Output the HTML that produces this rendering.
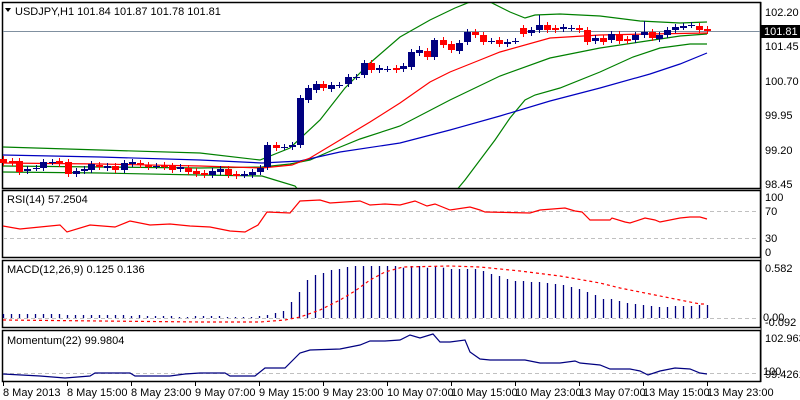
<!DOCTYPE html>
<html><head><meta charset="utf-8"><style>
body{margin:0;background:#fff;width:800px;height:400px;overflow:hidden}
svg{display:block;font-family:"Liberation Sans",sans-serif;font-size:11px}
</style></head><body>
<svg id="s" width="800" height="400" xmlns="http://www.w3.org/2000/svg">
<rect width="800" height="400" fill="#fff"/>
<rect x="2.5" y="2.5" width="758" height="186" fill="none" stroke="#000" stroke-width="1.5"/>
<rect x="2.5" y="190.5" width="758" height="67" fill="none" stroke="#000" stroke-width="1.5"/>
<rect x="2.5" y="260.5" width="758" height="67" fill="none" stroke="#000" stroke-width="1.5"/>
<rect x="2.5" y="330.5" width="758" height="51" fill="none" stroke="#000" stroke-width="1.5"/>
<g stroke="#c0c0c0" stroke-dasharray="4,3">
<line x1="3" y1="211.5" x2="760" y2="211.5"/><line x1="3" y1="238.5" x2="760" y2="238.5"/>
<line x1="3" y1="318.5" x2="760" y2="318.5"/><line x1="3" y1="373.5" x2="760" y2="373.5"/>
</g>
<line x1="3" y1="31.5" x2="760" y2="31.5" stroke="#8090a0"/>
<g id="g"></g>
<polygon points="5,8 11,8 8,12" fill="#000"/>
<text x="15" y="15" fill="#000">USDJPY,H1  101.84 101.87 101.78 101.81</text>
<text x="7" y="203" fill="#000">RSI(14) 57.2504</text>
<text x="7" y="273" fill="#000">MACD(12,26,9) 0.125 0.136</text>
<text x="7" y="344" fill="#000">Momentum(22) 99.9804</text>
<g fill="#000">
<text x="765" y="16">102.20</text><text x="765" y="50">101.45</text><text x="765" y="85">100.70</text>
<text x="765" y="119">99.95</text><text x="765" y="154">99.20</text><text x="765" y="188">98.45</text>
<text x="765" y="201">100</text><text x="765" y="215">70</text><text x="765" y="242">30</text><text x="765" y="256">0</text>
<text x="765" y="272">0.582</text><text x="763" y="321">0.00</text><text x="765" y="326">-0.092</text>
<text x="765" y="342">102.9633</text><text x="763" y="375">100</text><text x="765" y="378">99.4261</text>
</g>
<rect x="761" y="25" width="39" height="13" fill="#000"/>
<text x="764" y="35" fill="#fff">101.81</text>
<g stroke="#000"><line x1="761" y1="2" x2="761" y2="382"/></g>
<g id="t" fill="#000"></g>
</svg>
<script>
var g=document.getElementById('g'),h='';
var C=[[3,159,163,'r'],[12,161,163,'r'],[19,161,172,'r'],[27,169,171,'b'],[36,168,168,'d'],[43,162,168,'b'],[52,162,162,'d'],[59,161,164,'r'],[68,162,174,'r'],[76,171,174,'b'],[84,169,171,'b'],[91,164,170,'b'],[99,165,167,'r'],[107,166,168,'b'],[115,166,170,'r'],[124,163,170,'b'],[132,162,164,'b'],[140,163,165,'r'],[148,165,167,'r'],[156,166,166,'d'],[164,165,167,'r'],[172,166,170,'r'],[180,167,169,'b'],[188,168,172,'r'],[196,171,174,'r'],[204,173,175,'r'],[212,171,175,'b'],[220,169,172,'b'],[228,169,175,'r'],[236,174,176,'r'],[244,174,175,'b'],[252,172,175,'b'],[260,168,172,'b'],[267,145,167,'b'],[276,145,148,'r'],[284,147,147,'d'],[292,145,147,'b'],[300,98,145,'b'],[308,88,100,'b'],[316,84,90,'b'],[323,84,88,'r'],[331,85,89,'b'],[339,85,85,'d'],[348,77,84,'b'],[356,77,77,'d'],[364,63,75,'b'],[371,63,70,'r'],[379,68,70,'b'],[387,69,69,'d'],[396,68,70,'r'],[403,66,69,'b'],[411,52,67,'b'],[419,50,53,'b'],[427,51,57,'r'],[434,40,57,'b'],[443,40,45,'r'],[451,44,50,'r'],[459,43,51,'b'],[467,32,42,'b'],[475,32,35,'r'],[483,35,42,'r'],[491,41,41,'d'],[499,40,44,'r'],[507,42,44,'b'],[515,41,41,'d'],[523,28,34,'r'],[531,30,33,'b'],[539,25,30,'b'],[547,25,30,'r'],[555,28,30,'r'],[563,27,29,'b'],[571,28,28,'d'],[579,28,30,'r'],[587,30,42,'r'],[595,38,41,'b'],[603,38,42,'r'],[611,34,40,'b'],[619,34,41,'r'],[627,39,41,'r'],[635,35,40,'b'],[644,32,35,'b'],[652,32,38,'r'],[659,35,39,'b'],[667,30,35,'b'],[675,27,30,'b'],[683,26,27,'b'],[691,25,25,'d'],[699,26,30,'r'],[707,29,31,'r']];
function pl(pts,col,dash){return '<polyline fill="none" stroke="'+col+'" stroke-width="1.2" '+(dash?'stroke-dasharray="'+dash+'" ':'')+'points="'+pts.map(function(p){return p.join(',')}).join(' ')+'"/>';}
h+='<clipPath id="cm"><rect x="3" y="3" width="757" height="185"/></clipPath><g clip-path="url(#cm)">';
h+=pl([[3,147],[100,150],[200,153],[260,160],[290,148],[320,120],[345,88],[370,63],[400,37],[430,20],[455,8],[470,2],[490,2],[510,12],[525,18],[535,15],[560,14],[600,16],[640,21],[680,23],[707,22]],'#008000');
h+=pl([[3,172],[100,173],[200,175],[262,176],[275,180],[295,186],[300,192]],'#008000');
h+=pl([[455,192],[465,180],[480,160],[495,140],[510,118],[525,100],[535,95],[560,88],[600,72],[633,57],[660,48],[690,44],[707,44]],'#008000');
h+=pl([[3,166],[100,167],[200,168],[262,167],[290,164],[310,160],[333,150],[360,139],[400,126],[450,100],[500,76],[550,58],[600,48],[640,42],[680,36],[707,34]],'#008000');
h+=pl([[3,155],[100,157],[200,160],[262,163],[300,161],[340,152],[400,143],[450,130],[500,116],[550,101],[600,88],[650,74],[680,64],[707,53]],'#0000c0');
h+=pl([[3,163],[100,164],[200,166],[262,168],[292,165],[310,158],[340,140],[370,122],[400,103],[430,82],[450,72],[480,60],[500,52],[550,38],[600,35],[650,34],[707,33]],'#ff0000');
h+='</g>';
C.forEach(function(c){var x=c[0],col=c[3]=='r'?'#ff0000':'#000080';
var wt=c[1]-3,wb=c[2]+3;if(x==267){wt=142;wb=170}if(x==300){wt=95}if(x==539){wt=15}if(x==644){wt=21}if(x==434){wt=38}if(x==419){wt=46}
h+='<line x1="'+(x+.5)+'" y1="'+wt+'" x2="'+(x+.5)+'" y2="'+wb+'" stroke="'+col+'"/>';
if(c[3]=='d')h+='<line x1="'+(x-3)+'" y1="'+(c[1]+.5)+'" x2="'+(x+4)+'" y2="'+(c[1]+.5)+'" stroke="'+col+'"/>';
else h+='<rect x="'+(x-3)+'" y="'+c[1]+'" width="7" height="'+Math.max(2,c[2]-c[1])+'" fill="'+col+'"/>';});
h+=pl([[3,226],[20,229],[40,227],[60,225],[67,232],[90,225],[115,227],[130,221],[150,225],[170,224],[190,226],[210,227],[230,231],[245,232],[258,225],[267,212],[290,213],[300,201],[320,200],[330,203],[360,201],[370,205],[385,204],[400,205],[415,201],[427,206],[435,204],[450,210],[470,207],[480,210],[485,212],[530,213],[540,210],[565,208],[575,211],[582,212],[590,220],[610,220],[612,218],[625,222],[630,223],[645,218],[655,220],[660,222],[680,218],[690,217],[700,217],[707,219]],'#ff0000');
var early=[314,314,314,314,314,314,314,314,315,315,315,315,315,315,315,315,316,315,316,316,316,316,317,317,316,316,316,316,317,317,317,317,316,315,313,311,302,292,280,275,273,270,269,267,266,266,266,266,266,266];
var late=[267.7,266,266,267.7,266,267.7,269,269,269,269,271,274,276,279,281,281,282,282,283,284,285,287,289,292,295,299,299,301,303,304,305,306,307,307,306,306,306,305,305];
var bars=early.concat(late);
bars.forEach(function(v,i){var x=3+8*i;if(x>708)return;h+='<line x1="'+(x+.5)+'" y1="'+v+'" x2="'+(x+.5)+'" y2="318" stroke="#000080" stroke-width="1.3"/>';});
h+=pl([[3,320],[100,321],[200,322],[260,322],[285,320],[300,317],[320,310],[340,300],[355,291],[370,280],[385,272],[403,267],[450,266],[480,267],[520,271],[560,276],[600,283],[620,288],[650,294],[680,300],[700,304],[707,304]],'#ff0000','3,3');
h+=pl([[3,374],[40,376],[65,378],[90,376],[95,373],[130,373],[135,376],[170,376],[185,374],[200,373],[225,373],[230,376],[255,376],[265,368],[285,368],[300,353],[310,350],[340,349],[350,347],[360,345],[370,341],[385,341],[400,340],[410,335],[420,338],[433,334],[440,342],[450,342],[465,340],[470,352],[480,359],[490,360],[525,360],[540,363],[560,363],[575,361],[580,363],[600,365],[610,369],[630,369],[640,371],[648,375],[660,371],[675,368],[690,369],[700,373],[707,374]],'#000080');
g.innerHTML=h;
var L=["8 May 2013","8 May 15:00","8 May 23:00","9 May 07:00","9 May 15:00","9 May 23:00","10 May 07:00","10 May 15:00","10 May 23:00","13 May 07:00","13 May 15:00","13 May 23:00"],t='';
L.forEach(function(s,i){var x=3+64*i;t+='<line x1="'+(x+.5)+'" y1="382" x2="'+(x+.5)+'" y2="386" stroke="#000"/><text x="'+x+'" y="396">'+s+'</text>';});
document.getElementById('t').innerHTML=t;
</script>
</body></html>
